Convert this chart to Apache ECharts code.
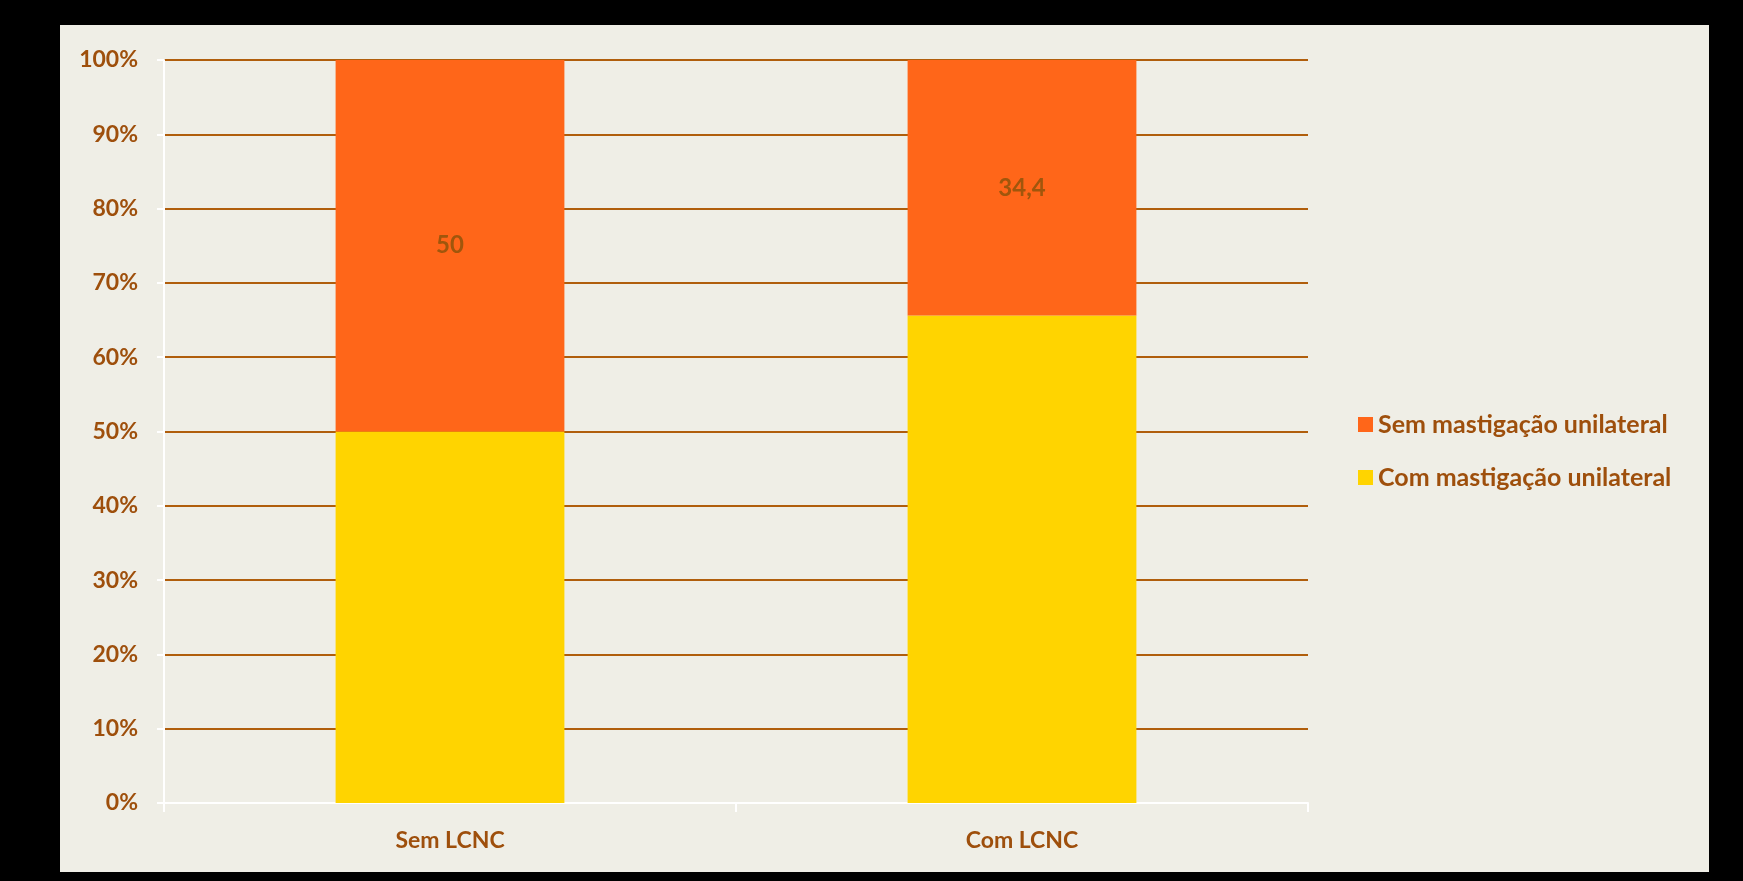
<!DOCTYPE html>
<html>
<head>
<meta charset="utf-8">
<script src="https://cdn.jsdelivr.net/npm/echarts@6/dist/echarts.min.js"></script>
<style>
html,body{margin:0;padding:0;background:#000;width:1743px;height:881px;overflow:hidden;}
#chart{position:absolute;left:60px;top:25px;width:1649px;height:847px;background:#EFEEE6;}
</style>
</head>
<body>
<div id="chart"></div>
<script>
const categories = ['Sem LCNC', 'Com LCNC'];
const seriesNames = ['Com mastigação unilateral', 'Sem mastigação unilateral'];
const comValues = [50, 65.6];
const semValues = [50, 34.4];
const semLabels = ['50', '34,4'];
const yTicks = [0, 10, 20, 30, 40, 50, 60, 70, 80, 90, 100];

const textColor = '#9E4F0C';
const font = 'Lato';
const chart = echarts.init(document.getElementById('chart'), null, {renderer: 'canvas'});
chart.setOption({
  animation: false,
  backgroundColor: '#EFEEE6',
  textStyle: {fontFamily: font, fontWeight: 'bold'},
  grid: {left: 104, top: 35, right: 401, bottom: 69, containLabel: false},
  legend: {
    data: [seriesNames[1], seriesNames[0]],
    orient: 'vertical',
    left: 1298,
    top: 387,
    padding: 0,
    itemWidth: 15,
    itemHeight: 15,
    itemGap: 28,
    icon: 'rect',
    textStyle: {color: textColor, fontSize: 25, fontWeight: 'bold', fontFamily: font}
  },
  xAxis: {
    type: 'category',
    data: categories,
    axisLine: {lineStyle: {color: '#FFFFFF', width: 2}},
    axisTick: {show: true, length: 9, lineStyle: {color: '#FFFFFF', width: 2}},
    axisLabel: {color: textColor, fontSize: 23, fontWeight: 'bold', fontFamily: font, margin: 26}
  },
  yAxis: {
    type: 'value',
    min: yTicks[0],
    max: yTicks[yTicks.length - 1],
    interval: 10,
    axisLine: {show: true, lineStyle: {color: '#FFFFFF', width: 2}},
    axisTick: {show: true, length: 7, lineStyle: {color: '#FFFFFF', width: 2}},
    axisLabel: {color: textColor, fontSize: 23, fontWeight: 'bold', fontFamily: font, margin: 26, formatter: '{value}%'},
    splitLine: {show: true, lineStyle: {color: '#B05E0C', width: 2}}
  },
  series: [
    {
      name: seriesNames[0],
      type: 'bar',
      stack: 'total',
      barWidth: '40%',
      data: comValues,
      itemStyle: {color: '#FFD400'},
      z: 3
    },
    {
      name: seriesNames[1],
      type: 'bar',
      stack: 'total',
      barWidth: '40%',
      data: semValues,
      itemStyle: {color: '#FF6619'},
      z: 3,
      label: {
        show: true,
        position: 'inside',
        color: '#A0560C',
        fontSize: 24,
        fontWeight: 'bold',
        fontFamily: font,
        formatter: p => semLabels[p.dataIndex]
      }
    }
  ]
});
</script>
</body>
</html>
